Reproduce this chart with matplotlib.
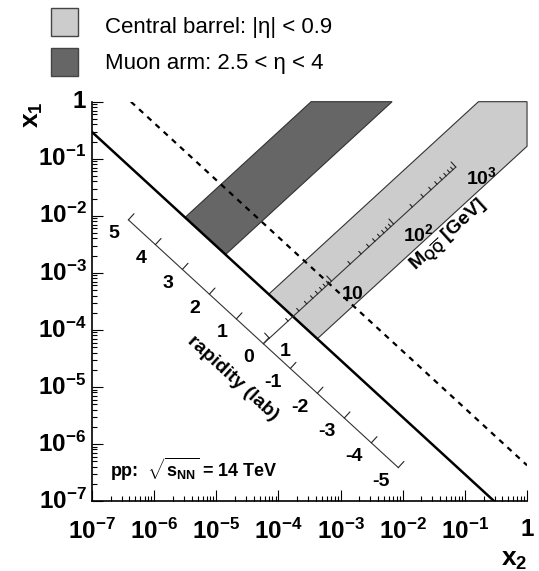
import numpy as np
import matplotlib.pyplot as plt
from matplotlib.patches import Polygon, Rectangle
from matplotlib.ticker import LogLocator, FuncFormatter, NullFormatter

plt.rcParams['font.family'] = ['Liberation Sans', 'DejaVu Sans']
plt.rcParams['mathtext.fontset'] = 'custom'
plt.rcParams['mathtext.rm'] = 'Liberation Sans'
plt.rcParams['mathtext.it'] = 'Liberation Sans:italic'
plt.rcParams['mathtext.bf'] = 'Liberation Sans:bold'

# kinematics, pp at 14 TeV
sqrt_s = 14000.0          # GeV
m_solid = 2.4             # GeV, solid x1*x2 line
m_dashed = 9.1            # GeV, dashed x1*x2 line
m_axis_lo = 0.8           # GeV, mass axis starts on the rapidity axis
m_axis_hi = 1000.0        # GeV

# acceptance bands in rapidity
band_labels = ['Central barrel: |η| < 0.9', 'Muon arm: 2.5 < η < 4']
band_eta = [(-0.9, 0.9), (2.5, 4.0)]
band_colors = ['#cccccc', '#666666']

rap_values = [5, 4, 3, 2, 1, 0, -1, -2, -3, -4, -5]
mass_major = [1, 10, 100, 1000]
mass_major_labels = [r'$\mathbf{1}$', r'$\mathbf{10}$', r'$\mathbf{10^{2}}$', r'$\mathbf{10^{3}}$']


def rap_point(y, m):
    # (x2, x1) for rapidity y at pair mass m
    r = m / sqrt_s
    return r * np.exp(-y), r * np.exp(y)


def box_hit(y):
    # where the line of constant rapidity leaves the x1, x2 <= 1 region
    if y >= 0:
        return np.exp(-2 * y), 1.0
    return 1.0, np.exp(2 * y)


def band_polygon(lo, hi, m):
    pts = [rap_point(hi, m), box_hit(hi)]
    if lo < 0 < hi:
        pts.append((1.0, 1.0))
    pts += [box_hit(lo), rap_point(lo, m)]
    return pts


fig = plt.figure(figsize=(5.39, 5.71), dpi=100)
ax = fig.add_axes([0.1707, 0.1226, 0.8071, 0.6993])
ax.set_xscale('log')
ax.set_yscale('log')
ax.set_xlim(1e-7, 1)
ax.set_ylim(1e-7, 1)
for side in ['top', 'right']:
    ax.spines[side].set_visible(False)
for side in ['left', 'bottom']:
    ax.spines[side].set_linewidth(1.2)

fmt = FuncFormatter(lambda v, pos: r'$\mathbf{1}$' if abs(np.log10(v)) < 0.01
                    else r'$\mathbf{10^{%d}}$' % round(np.log10(v)))
for axis in [ax.xaxis, ax.yaxis]:
    axis.set_major_locator(LogLocator(base=10, numticks=10))
    axis.set_minor_locator(LogLocator(base=10, subs=np.arange(2, 10), numticks=10))
    axis.set_major_formatter(fmt)
    axis.set_minor_formatter(NullFormatter())
ax.tick_params(which='both', direction='in', width=0.8, labelsize=17.5)
ax.tick_params(which='major', length=8)
ax.tick_params(which='minor', length=3.5)
ax.tick_params(axis='x', pad=13)
ax.tick_params(axis='y', pad=4)
for lab in ax.get_yticklabels():
    lab.set_va('center')

# acceptance bands
for (lo, hi), col in zip(band_eta, band_colors):
    ax.add_patch(Polygon(band_polygon(lo, hi, m_solid), closed=True, facecolor=col,
                         edgecolor='#333333', lw=0.8, zorder=1, clip_on=False))

# lines of constant x1*x2
x_solid = np.array([1e-7, (m_solid / sqrt_s) ** 2 / 1e-7])
ax.plot(x_solid, (m_solid / sqrt_s) ** 2 / x_solid, color='k', lw=1.8, zorder=3)
x_dash = np.array([(m_dashed / sqrt_s) ** 2, 1.0])
ax.plot(x_dash, (m_dashed / sqrt_s) ** 2 / x_dash, color='k', lw=1.6,
        ls=(0, (2.5, 2.5)), zorder=3)


def unit_dir(p0, p1):
    a = ax.transData.transform(p0)
    b = ax.transData.transform(p1)
    d = b - a
    return d / np.hypot(*d)


def tick(p, vec, length, lw=0.8):
    ax.annotate('', xy=p, xytext=(vec[0] * length, vec[1] * length),
                textcoords='offset points', zorder=4,
                arrowprops=dict(arrowstyle='-', lw=lw, color='#222222',
                                shrinkA=0, shrinkB=0))


# rapidity axis along constant x1*x2
rap_dir = unit_dir(rap_point(5, m_axis_lo), rap_point(-5, m_axis_lo))
rap_norm = np.array([-rap_dir[1], rap_dir[0]])
if rap_norm[1] < 0:
    rap_norm = -rap_norm
ends = [rap_point(5, m_axis_lo), rap_point(-5, m_axis_lo)]
ax.plot([e[0] for e in ends], [e[1] for e in ends], color='#333333', lw=0.8, zorder=4)
for y in rap_values:
    p = rap_point(y, m_axis_lo)
    tick(p, rap_norm, 6)
    ax.annotate(str(y), xy=p, xytext=(-6.5, -10), textcoords='offset points',
                ha='right', va='center', fontsize=14, fontweight='bold', zorder=5)
rap_angle = np.degrees(np.arctan2(rap_dir[1], rap_dir[0]))
ax.annotate('rapidity (lab)', xy=rap_point(0, m_axis_lo), xytext=(-22, -25),
            textcoords='offset points', ha='center', va='center', fontsize=14,
            fontweight='bold', rotation=rap_angle, rotation_mode='anchor', zorder=5)

# mass axis along x1 = x2
m_lo = (m_axis_lo / sqrt_s, m_axis_lo / sqrt_s)
m_hi = (m_axis_hi / sqrt_s, m_axis_hi / sqrt_s)
mass_dir = unit_dir(m_lo, m_hi)
mass_norm = np.array([-mass_dir[1], mass_dir[0]])
ax.plot([m_lo[0], m_hi[0]], [m_lo[1], m_hi[1]], color='#333333', lw=0.8, zorder=4)
for dec in [1, 10, 100]:
    for k in range(1, 10):
        m = dec * k
        if m_axis_lo <= m <= m_axis_hi:
            tick((m / sqrt_s, m / sqrt_s), mass_norm, 5 if k == 1 else 2.5)
tick((m_axis_hi / sqrt_s, m_axis_hi / sqrt_s), mass_norm, 5)
for m, lab in zip(mass_major, mass_major_labels):
    ax.annotate(lab, xy=(m / sqrt_s, m / sqrt_s), xytext=(7, -12.5),
                textcoords='offset points', ha='left', va='baseline',
                fontsize=14, zorder=5)
mass_angle = np.degrees(np.arctan2(mass_dir[1], mass_dir[0]))
ax.annotate(r'$\mathbf{M}_{\mathbf{Q}\overline{\mathbf{Q}}}$ [GeV]',
            xy=(100 / sqrt_s, 100 / sqrt_s), xytext=(40, -9), textcoords='offset points',
            ha='center', va='center', fontsize=14, fontweight='bold',
            rotation=mass_angle, rotation_mode='anchor', zorder=5)

ax.text(0.041, 0.059, r'pp:  $\sqrt{\mathbf{s}_{\mathbf{NN}}}$ = 14 TeV', transform=ax.transAxes,
        ha='left', va='baseline', fontsize=13, fontweight='bold')

# axis titles
fig.text(0.0612, 0.7986, r'$\mathbf{x}_{\mathbf{1}}$', rotation=90, ha='center', va='center',
         fontsize=19)
fig.text(0.9536, 0.0190, r'$\mathbf{x}_{\mathbf{2}}$', ha='center', va='center', fontsize=19)

# legend boxes
legend_y = [0.937, 0.8664]
text_y = [0.943, 0.8797]
for by, ty, col, lab in zip(legend_y, text_y, band_colors, band_labels):
    fig.patches.append(Rectangle((0.0944, by), 0.051, 0.0497, transform=fig.transFigure,
                                 facecolor=col, edgecolor='#444444', lw=1.0))
    fig.text(0.1944, ty, lab, ha='left', va='baseline', fontsize=16)

fig.savefig('out.png', dpi=100)
